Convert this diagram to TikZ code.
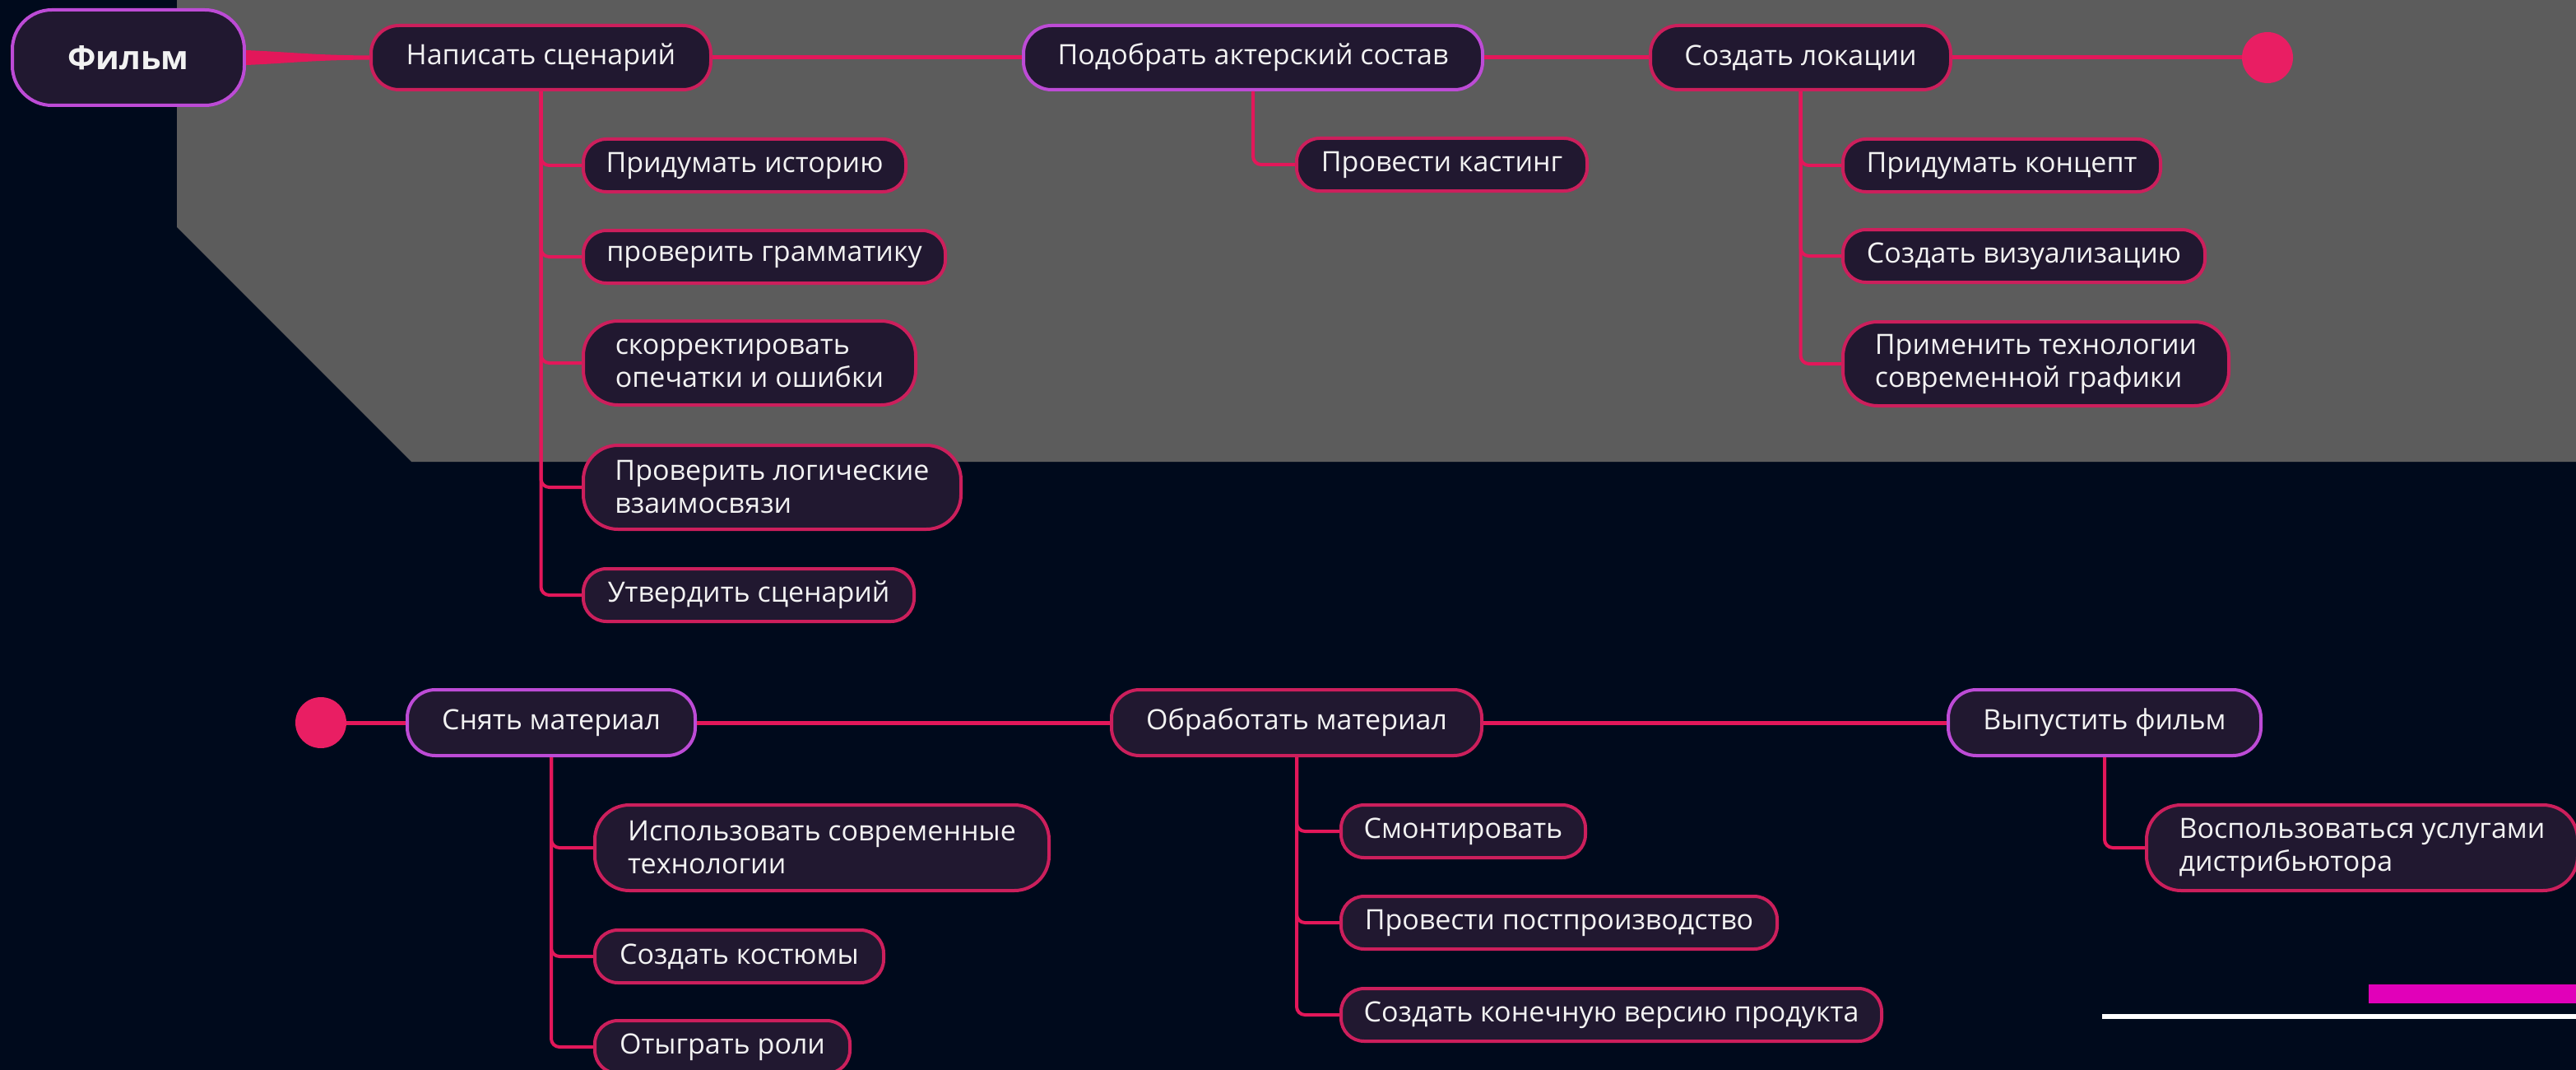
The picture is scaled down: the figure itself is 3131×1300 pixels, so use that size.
\documentclass[tikz,border=0pt]{standalone}
\usepackage{fontspec}
\setmainfont{Open Sans}
\usetikzlibrary{positioning}

\definecolor{bgnavy}{HTML}{000A1C}
\definecolor{panelgray}{HTML}{5C5C5C}
\definecolor{boxfill}{HTML}{211830}
\definecolor{linkred}{HTML}{E3175A}
\definecolor{rimred}{HTML}{CC1F5C}
\definecolor{rimviolet}{HTML}{BD4BD6}
\definecolor{dotred}{HTML}{E91E63}
\definecolor{barmagenta}{HTML}{E100B9}
\definecolor{textwhite}{HTML}{F2F2F2}

\begin{document}
\begin{tikzpicture}[x=1pt, y=1pt, node distance=500pt, on grid]
  \tikzstyle{stage} = [draw=rimred, line width=4pt, fill=boxfill, rectangle, rounded corners=34pt, minimum height=78pt, inner xsep=6pt, text=textwhite, font={\fontsize{34}{40}\selectfont}]
  \tikzstyle{lead} = [stage, draw=rimviolet]
  \tikzstyle{task} = [stage, anchor=west, minimum height=64pt, rounded corners=28pt, align=left]
  \tikzstyle{twoline} = [minimum height=102pt, rounded corners=42pt]
  \tikzstyle{enddot} = [circle, fill=dotred, minimum size=62pt, inner sep=0pt]
  \tikzstyle{link} = [linkred, line width=5pt]
  \tikzstyle{branch} = [linkred, line width=4pt, rounded corners=10pt]

  % backdrop
  \fill[bgnavy] (0,0) rectangle (3131,-1300);
  \useasboundingbox (0,0) rectangle (3131,-1300);
  \fill[panelgray] (215,0) -- (215,-276) -- (500,-561) -- (3131,-561) -- (3131,0) -- cycle;

  % upper row
  \node[lead, minimum width=282pt, minimum height=116pt, rounded corners=48pt, font={\fontsize{40}{48}\selectfont\bfseries}] (film) at (156,-70) {Фильм};
  \node[stage, minimum width=413pt] (write) [right=501.5pt of film] {Написать сценарий};
  \node[lead, minimum width=558pt] (cast) [right=865.5pt of write] {Подобрать актерский состав};
  \node[stage, minimum width=365pt] (places) [right=665.5pt of cast] {Создать локации};
  \node[enddot] (topend) [right=567.5pt of places] {};

  \node[task, minimum width=392pt] (story) at (707,-201) {Придумать историю};
  \node[task, minimum width=440pt] (grammar) at (707,-312) {проверить грамматику};
  \node[task, twoline, minimum width=404pt] (typos) at (707,-441) {скорректировать\\опечатки и ошибки};
  \node[task, twoline, minimum width=459pt] (logic) at (707,-592) {Проверить логические\\взаимосвязи};
  \node[task, minimum width=402pt] (approve) at (707,-723) {Утвердить сценарий};

  \node[task, minimum width=353pt] (casting) at (1574,-200) {Провести кастинг};

  \node[task, minimum width=386pt] (concept) at (2238,-201) {Придумать концепт};
  \node[task, minimum width=440pt] (visual) at (2238,-311) {Создать визуализацию};
  \node[task, twoline, minimum width=469pt] (graphics) at (2238,-442) {Применить технологии\\современной графики};

  % lower row
  \node[enddot] (startdot) at (390,-878) {};
  \node[lead, minimum width=350pt, minimum height=80pt] (shoot) [right=280pt of startdot] {Снять материал};
  \node[stage, minimum width=450pt, minimum height=80pt] (edit) [right=906pt of shoot] {Обработать материал};
  \node[lead, minimum width=380pt, minimum height=80pt] (release) [right=982pt of edit] {Выпустить фильм};

  \node[task, twoline, minimum width=552pt, minimum height=104pt] (moderntech) at (721,-1030) {Использовать современные\\технологии};
  \node[task, minimum width=351pt] (costumes) at (721,-1162) {Создать костюмы};
  \node[task, minimum width=310pt] (roles) at (721,-1272) {Отыграть роли};

  \node[task, minimum width=297pt] (montage) at (1628,-1010) {Смонтировать};
  \node[task, minimum width=530pt] (postprod) at (1628,-1121) {Провести постпроизводство};
  \node[task, minimum width=657pt] (finalcut) at (1628,-1233) {Создать конечную версию продукта};

  \node[task, twoline, minimum width=524pt, minimum height=104pt] (distrib) at (2607,-1030) {Воспользоваться услугами\\дистрибьютора};

  % connectors
  \fill[linkred] ([yshift=9pt]film.east) .. controls ([xshift=50pt,yshift=7pt]film.east) and ([xshift=-70pt,yshift=3pt]write.west) .. ([yshift=2.5pt]write.west)
    -- ([yshift=-2.5pt]write.west) .. controls ([xshift=-70pt,yshift=-3pt]write.west) and ([xshift=50pt,yshift=-7pt]film.east) .. ([yshift=-9pt]film.east) -- cycle;
  \draw[link] (write) -- (cast);
  \draw[link] (cast) -- (places);
  \draw[link] (places) -- (topend);
  \draw[link] (startdot) -- (shoot);
  \draw[link] (shoot) -- (edit);
  \draw[link] (edit) -- (release);

  \foreach \leaf in {story,grammar,typos,logic,approve}
    \draw[branch] (write.south) |- (\leaf.west);
  \draw[branch] (cast.south) |- (casting.west);
  \foreach \leaf in {concept,visual,graphics}
    \draw[branch] (places.south) |- (\leaf.west);
  \foreach \leaf in {moderntech,costumes,roles}
    \draw[branch] (shoot.south) |- (\leaf.west);
  \foreach \leaf in {montage,postprod,finalcut}
    \draw[branch] (edit.south) |- (\leaf.west);
  \draw[branch] (release.south) |- (distrib.west);

  % corner marks
  \fill[barmagenta] (2879,-1196) rectangle (3131,-1219);
  \fill[white] (2555,-1232) rectangle (3131,-1238);
\end{tikzpicture}
\end{document}
